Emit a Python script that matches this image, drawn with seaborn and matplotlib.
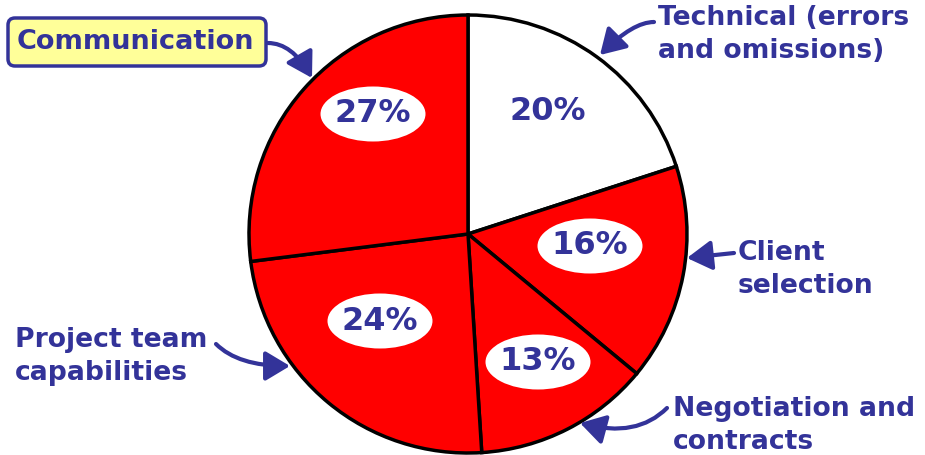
import matplotlib
matplotlib.use("Agg")
import matplotlib.pyplot as plt
import seaborn as sns
from matplotlib.patches import Ellipse, FancyArrowPatch, FancyBboxPatch

sns.set_style("white")
plt.rcParams['font.family'] = ['DejaVu Sans']

categories = ["Technical (errors\nand omissions)", "Client\nselection",
              "Negotiation and\ncontracts", "Project team\ncapabilities", "Communication"]
shares = [20, 16, 13, 24, 27]
pct_labels = ["20%", "16%", "13%", "24%", "27%"]

W, H = 925, 455
NAVY = "#333399"
RED = "#FF0000"

fig = plt.figure(figsize=(9.25, 4.55), dpi=100)
ax = fig.add_axes([0, 0, 1, 1])

def Y(py):
    return H - py

cx, cy, r = 468, 234, 219
colors = ["white", RED, RED, RED, RED]
ax.pie(shares, colors=colors, startangle=90, counterclock=False,
       center=(cx, Y(cy)), radius=r, frame=True,
       wedgeprops=dict(edgecolor="black", linewidth=2.5))
ax.set_xlim(0, W)
ax.set_ylim(0, H)
ax.set_aspect("equal")
ax.axis("off")

# percentage labels with white ellipses
pct_pos = [(548, 112, False), (590, 246, True), (538, 362, True), (380, 321, True), (373, 114, True)]
for (px, py, ell), lab in zip(pct_pos, pct_labels):
    if ell:
        ax.add_patch(Ellipse((px, Y(py)), 105, 55, facecolor="white", edgecolor="none", zorder=5))
    ax.text(px, Y(py), lab, ha="center", va="center", fontsize=23, fontweight="bold",
            color=NAVY, zorder=6)

# outer labels
fs = 19.2
ls = 1.36
ax.text(658, Y(5), categories[0], ha="left", va="top", fontsize=fs, fontweight="bold",
        color=NAVY, linespacing=ls)
ax.text(738, Y(240), categories[1], ha="left", va="top", fontsize=fs, fontweight="bold",
        color=NAVY, linespacing=ls)
ax.text(673, Y(396), categories[2], ha="left", va="top", fontsize=fs, fontweight="bold",
        color=NAVY, linespacing=ls)
ax.text(15, Y(327), categories[3], ha="left", va="top", fontsize=fs, fontweight="bold",
        color=NAVY, linespacing=ls)

# Communication box
ax.add_patch(FancyBboxPatch((8, Y(66)), 258, 48, boxstyle="round,pad=0,rounding_size=7",
                            facecolor="#FFFF99", edgecolor=NAVY, linewidth=2.5, zorder=4))
ax.text(17, Y(42), categories[4], ha="left", va="center", fontsize=19.5, fontweight="bold",
        color=NAVY, zorder=5)

# arrows
def arrow(p0, p1, conn):
    a = FancyArrowPatch((p0[0], Y(p0[1])), (p1[0], Y(p1[1])),
                        connectionstyle=conn,
                        arrowstyle="-|>,head_length=15,head_width=9",
                        color=NAVY, linewidth=3, mutation_scale=1, zorder=7,
                        shrinkA=0, shrinkB=0)
    ax.add_patch(a)

arrow((268, 43), (312, 78), "angle3,angleA=0,angleB=120")
arrow((654, 22), (600, 55), "angle3,angleA=180,angleB=45")
arrow((734, 253), (687, 258), "arc3,rad=0")
arrow((667, 408), (580, 423), "angle3,angleA=-135,angleB=165")
arrow((216, 344), (290, 366), "angle3,angleA=-45,angleB=0")

fig.savefig("out.png", dpi=100)
